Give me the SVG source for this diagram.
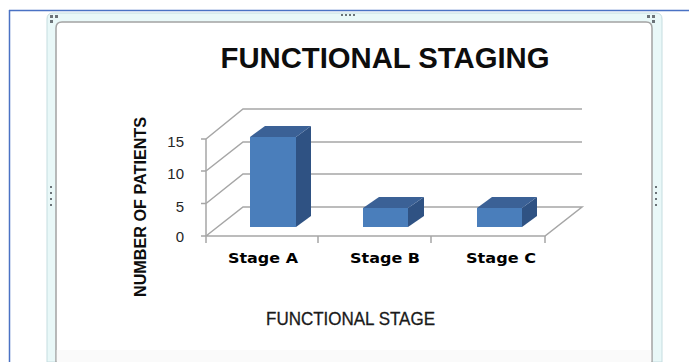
<svg xmlns="http://www.w3.org/2000/svg" width="689" height="362" viewBox="0 0 689 362">
  <style>
    .grid { stroke: #a6a6a6; stroke-width: 1.5; fill: none; }
    .front { fill: #4a7ebb; }
    .side { fill: #2f5283; }
    .top { fill: #3b6196; }
    .tick { font-family: "Liberation Sans", Arial, sans-serif; font-size: 15px; fill: #262626; text-anchor: end; }
    .cat { font-family: "DejaVu Sans", Verdana, sans-serif; font-weight: bold; font-size: 14px; fill: #000; text-anchor: middle; }
    .handle { fill: #6b7378; }
  </style>
  <rect x="0" y="0" width="689" height="362" fill="#ffffff"/>
  <!-- outer blue border -->
  <g id="window-border">
    <line x1="9" y1="10.5" x2="689" y2="10.5" stroke="#4a72c4" stroke-width="1.5"/>
    <line x1="9.5" y1="10" x2="9.5" y2="362" stroke="#4a72c4" stroke-width="1.5"/>
  </g>
  <!-- chart frame -->
  <g id="frame">
    <path d="M47,362 V19 Q47,13 53,13 H656 Q662,13 662,19 V362 Z" fill="#e9f8f8" stroke="#c5dde0" stroke-width="1"/>
    <path d="M56,362 V28 Q56,22 62,22 H646 Q652,22 652,28 V362 Z" fill="#ffffff" stroke="#a3a3a3" stroke-width="1.5"/>
    <rect x="56.75" y="350" width="594.5" height="12" fill="#fafafa"/>
  </g>
  <g id="handles">
    <rect class="handle" x="50" y="15" width="3" height="3"/>
    <rect class="handle" x="55" y="15" width="3" height="3"/>
    <rect class="handle" x="50" y="20" width="3" height="3"/>
    <rect class="handle" x="647" y="15" width="3" height="3"/>
    <rect class="handle" x="652" y="15" width="3" height="3"/>
    <rect class="handle" x="652" y="20" width="3" height="3"/>
    <rect class="handle" x="341" y="14" width="2" height="2"/>
    <rect class="handle" x="345" y="14" width="2" height="2"/>
    <rect class="handle" x="349" y="14" width="2" height="2"/>
    <rect class="handle" x="353" y="14" width="2" height="2"/>
    <rect class="handle" x="50" y="186" width="2" height="2"/>
    <rect class="handle" x="50" y="192" width="2" height="2"/>
    <rect class="handle" x="50" y="198" width="2" height="2"/>
    <rect class="handle" x="50" y="204" width="2" height="2"/>
    <rect class="handle" x="655" y="186" width="2" height="2"/>
    <rect class="handle" x="655" y="192" width="2" height="2"/>
    <rect class="handle" x="655" y="198" width="2" height="2"/>
    <rect class="handle" x="655" y="204" width="2" height="2"/>
  </g>
  <!-- title -->
  <g id="title">
    <text x="385" y="68" font-family="'Liberation Sans', Arial, sans-serif" font-weight="bold" font-size="29" fill="#0d0d0d" text-anchor="middle" textLength="329" lengthAdjust="spacingAndGlyphs">FUNCTIONAL STAGING</text>
  </g>
  <!-- gridlines / walls -->
  <g id="grid">
    <polyline class="grid" points="206,139 243,109 582,109"/>
    <polyline class="grid" points="206,171 243,142 582,142"/>
    <polyline class="grid" points="206,203.5 243,174 582,174"/>
    <polyline class="grid" points="206,236 243,207 582,207 545,236 206,236"/>
    <line class="grid" x1="206" y1="139" x2="206" y2="236"/>
    <line class="grid" x1="201" y1="139" x2="206" y2="139"/>
    <line class="grid" x1="201" y1="171" x2="206" y2="171"/>
    <line class="grid" x1="201" y1="203.5" x2="206" y2="203.5"/>
    <line class="grid" x1="201" y1="236" x2="206" y2="236"/>
    <line class="grid" x1="206" y1="236" x2="206" y2="243"/>
    <line class="grid" x1="318" y1="236" x2="318" y2="243"/>
    <line class="grid" x1="431" y1="236" x2="431" y2="243"/>
    <line class="grid" x1="545" y1="236" x2="545" y2="243"/>
  </g>
  <!-- bars -->
  <g id="bar-stage-a">
    <rect class="front" x="250" y="137" width="46" height="90"/>
    <polygon class="side" points="296,137 311,126 311,216 296,227"/>
    <polygon class="top" points="250,137 265,126 311,126 296,137"/>
  </g>
  <g id="bar-stage-b">
    <rect class="front" x="363" y="208" width="45" height="19"/>
    <polygon class="side" points="408,208 424,197 424,216 408,227"/>
    <polygon class="top" points="363,208 379,197 424,197 408,208"/>
  </g>
  <g id="bar-stage-c">
    <rect class="front" x="477" y="208" width="45" height="19"/>
    <polygon class="side" points="522,208 537,197 537,216 522,227"/>
    <polygon class="top" points="477,208 492,197 537,197 522,208"/>
  </g>
  <!-- y tick labels -->
  <g id="y-labels">
    <text class="tick" x="184" y="147">15</text>
    <text class="tick" x="184" y="179">10</text>
    <text class="tick" x="184" y="212">5</text>
    <text class="tick" x="184" y="242">0</text>
  </g>
  <!-- category labels -->
  <g id="x-labels">
    <text class="cat" x="263" y="263" textLength="70" lengthAdjust="spacingAndGlyphs">Stage A</text>
    <text class="cat" x="385" y="263" textLength="70" lengthAdjust="spacingAndGlyphs">Stage B</text>
    <text class="cat" x="501" y="263" textLength="70" lengthAdjust="spacingAndGlyphs">Stage C</text>
  </g>
  <!-- axis titles -->
  <g id="y-title">
    <text transform="translate(146,207) rotate(-90)" font-family="'Liberation Sans', Arial, sans-serif" font-weight="bold" font-size="16" fill="#0d0d0d" text-anchor="middle" textLength="180" lengthAdjust="spacingAndGlyphs">NUMBER OF PATIENTS</text>
  </g>
  <g id="x-title">
    <text x="350.5" y="325" font-family="'Liberation Sans', Arial, sans-serif" font-size="19" fill="#1a1a1a" stroke="#1a1a1a" stroke-width="0.3" text-anchor="middle" textLength="169" lengthAdjust="spacingAndGlyphs">FUNCTIONAL STAGE</text>
  </g>
</svg>
